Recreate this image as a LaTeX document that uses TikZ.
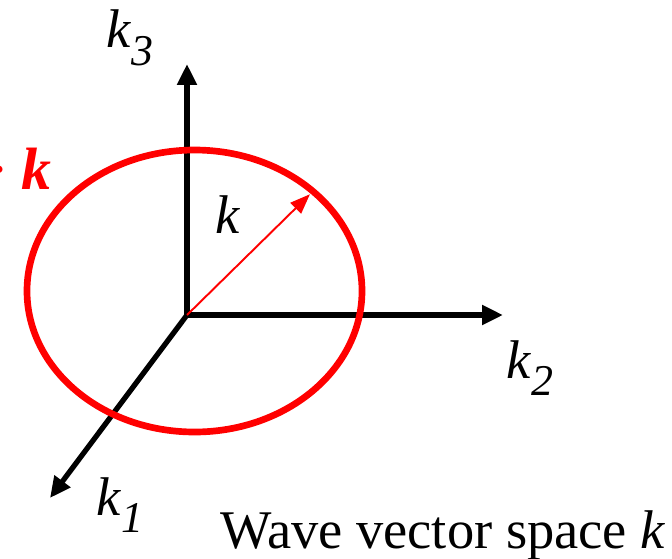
\documentclass[tikz,border=0pt]{standalone}
\usepackage{fontspec}
\setmainfont{Liberation Serif}
\newfontfamily\timesfont{Liberation Serif}
\usetikzlibrary{arrows.meta,positioning,calc}

\newcommand{\ksub}[1]{\textit{k\kern0.02em\raisebox{-0.32em}{\fontsize{25}{25}\selectfont #1}}}

\begin{document}
\begin{tikzpicture}[x=0.02cm, y=-0.02cm, every node/.style={font=\timesfont\fontsize{31}{36}\selectfont, inner sep=0pt},
		axis/.style={line width=3pt, -{Triangle[length=0.42cm, width=0.38cm]}},
		sphere/.style={draw=red, line width=3.8pt},
		radius/.style={red, line width=1.1pt, -{Triangle[length=0.4cm, width=0.3cm]}}]
	\useasboundingbox (0,0) rectangle (672,558);
	\coordinate (o) at (187,315);
	\coordinate (t3) at (187,64);
	\coordinate (t2) at (503,315);
	\coordinate (t1) at (50,498);
	\draw[axis] (o) -- (t3);
	\draw[axis] (o) -- (t2);
	\draw[axis] (o) -- (t1);
	\draw[sphere] (194.5,291) ellipse [x radius=167.5, y radius=141];
	\coordinate (rim) at ($(194.5,291)+(45:167.5 and -141)$);
	\draw[radius, shorten >=2.4pt] (o) -- (rim);
	\node (k3) at (130,38) {\ksub{3}};
	\node (k2) at (530,368) {\ksub{2}};
	\node (k1) at (120,505) {\ksub{1}};
	\node (k) at (228,215) {\textit{k}};
	\node[anchor=base east, text=red] (dk) at (52,189) {\fontsize{34}{36}\selectfont ·\kern0.2em\textbf{\textit{k}}};
	\node[anchor=base east] (title) at (666,548) {Wave vector space \textit{k}};
\end{tikzpicture}
\end{document}
